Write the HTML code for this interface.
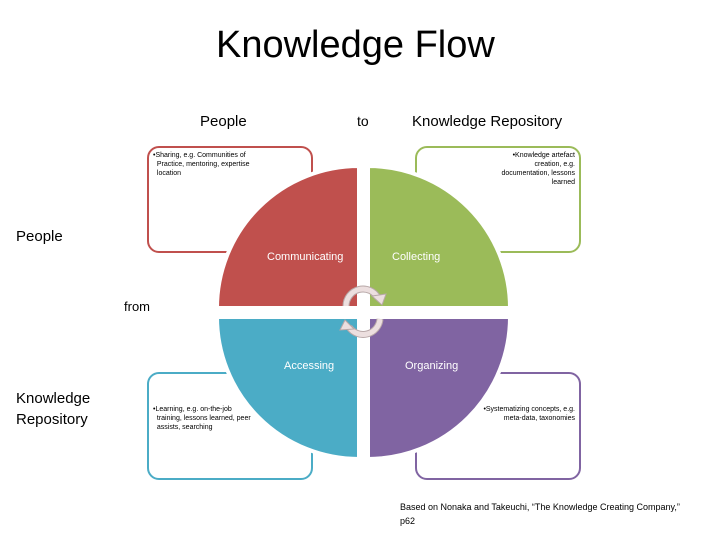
<!DOCTYPE html>
<html><head><style>
body{margin:0;width:728px;height:546px;background:#fff;position:relative;font-family:"Liberation Sans",sans-serif;overflow:hidden}
.t{position:absolute;white-space:nowrap;color:#000}
</style></head><body>
<svg width="728" height="546" style="position:absolute;left:0;top:0">
<g fill="#fff" stroke-width="2">
<rect x="148" y="147" width="164" height="105" rx="11" stroke="#c0504d"/>
<rect x="416" y="147" width="164" height="105" rx="11" stroke="#9bbb59"/>
<rect x="148" y="373" width="164" height="106" rx="11" stroke="#4bacc6"/>
<rect x="416" y="373" width="164" height="106" rx="11" stroke="#8064a2"/>
</g>
<g stroke="#fff" stroke-width="4">
<path d="M359 308 L217 308 A142 142 0 0 1 359 166 Z" fill="#c0504d"/>
<path d="M368 308 L368 166 A142 142 0 0 1 510 308 Z" fill="#9bbb59"/>
<path d="M359 317 L359 459 A142 142 0 0 1 217 317 Z" fill="#4bacc6"/>
<path d="M368 317 L510 317 A142 142 0 0 1 368 459 Z" fill="#8064a2"/>
</g>
<g fill="none" stroke-linecap="butt">
<path d="M346 306 A17 17 0 0 1 378 298" stroke="#b8a8a8" stroke-width="7"/>
<path d="M346 306 A17 17 0 0 1 378 298" stroke="#ecdfdf" stroke-width="5"/>
<path d="M380 319 A17 17 0 0 1 349 327" stroke="#b8a8a8" stroke-width="7"/>
<path d="M380 319 A17 17 0 0 1 349 327" stroke="#ecdfdf" stroke-width="5"/>
</g>
<polygon points="372,296 386,294 382,305" fill="#ecdfdf" stroke="#b8a8a8" stroke-width="1"/>
<polygon points="354,329 340,330 345,320" fill="#ecdfdf" stroke="#b8a8a8" stroke-width="1"/>
</svg>
<div class="t" style="left:216px;top:24px;font-size:38px">Knowledge Flow</div>
<div class="t" style="left:200px;top:113px;font-size:15px">People</div>
<div class="t" style="left:357px;top:113px;font-size:14px">to</div>
<div class="t" style="left:412px;top:113px;font-size:15px">Knowledge Repository</div>
<div class="t" style="left:16px;top:228px;font-size:15px">People</div>
<div class="t" style="left:124px;top:299px;font-size:13px">from</div>
<div class="t" style="left:16px;top:388px;font-size:15px;line-height:21px">Knowledge<br>Repository</div>
<div class="t" style="left:267px;top:251px;font-size:11px;color:#fff">Communicating</div>
<div class="t" style="left:392px;top:251px;font-size:11px;color:#fff">Collecting</div>
<div class="t" style="left:284px;top:360px;font-size:11px;color:#fff">Accessing</div>
<div class="t" style="left:405px;top:360px;font-size:11px;color:#fff">Organizing</div>
<div class="t" style="left:153px;top:151px;font-size:7px;line-height:9px">•Sharing, e.g. Communities of<br>&nbsp;&nbsp;Practice, mentoring, expertise<br>&nbsp;&nbsp;location</div>
<div class="t" style="right:153px;top:151px;font-size:7px;line-height:9px;text-align:right">•Knowledge artefact<br>creation, e.g.<br>documentation, lessons<br>learned</div>
<div class="t" style="left:153px;top:405px;font-size:7px;line-height:9px">•Learning, e.g. on-the-job<br>&nbsp;&nbsp;training, lessons learned, peer<br>&nbsp;&nbsp;assists, searching</div>
<div class="t" style="right:153px;top:405px;font-size:7px;line-height:9px;text-align:right">•Systematizing concepts, e.g.<br>meta-data, taxonomies</div>
<div class="t" style="left:400px;top:500px;font-size:9px;line-height:14px">Based on Nonaka and Takeuchi, “The Knowledge Creating Company,”<br>p62</div>
</body></html>
